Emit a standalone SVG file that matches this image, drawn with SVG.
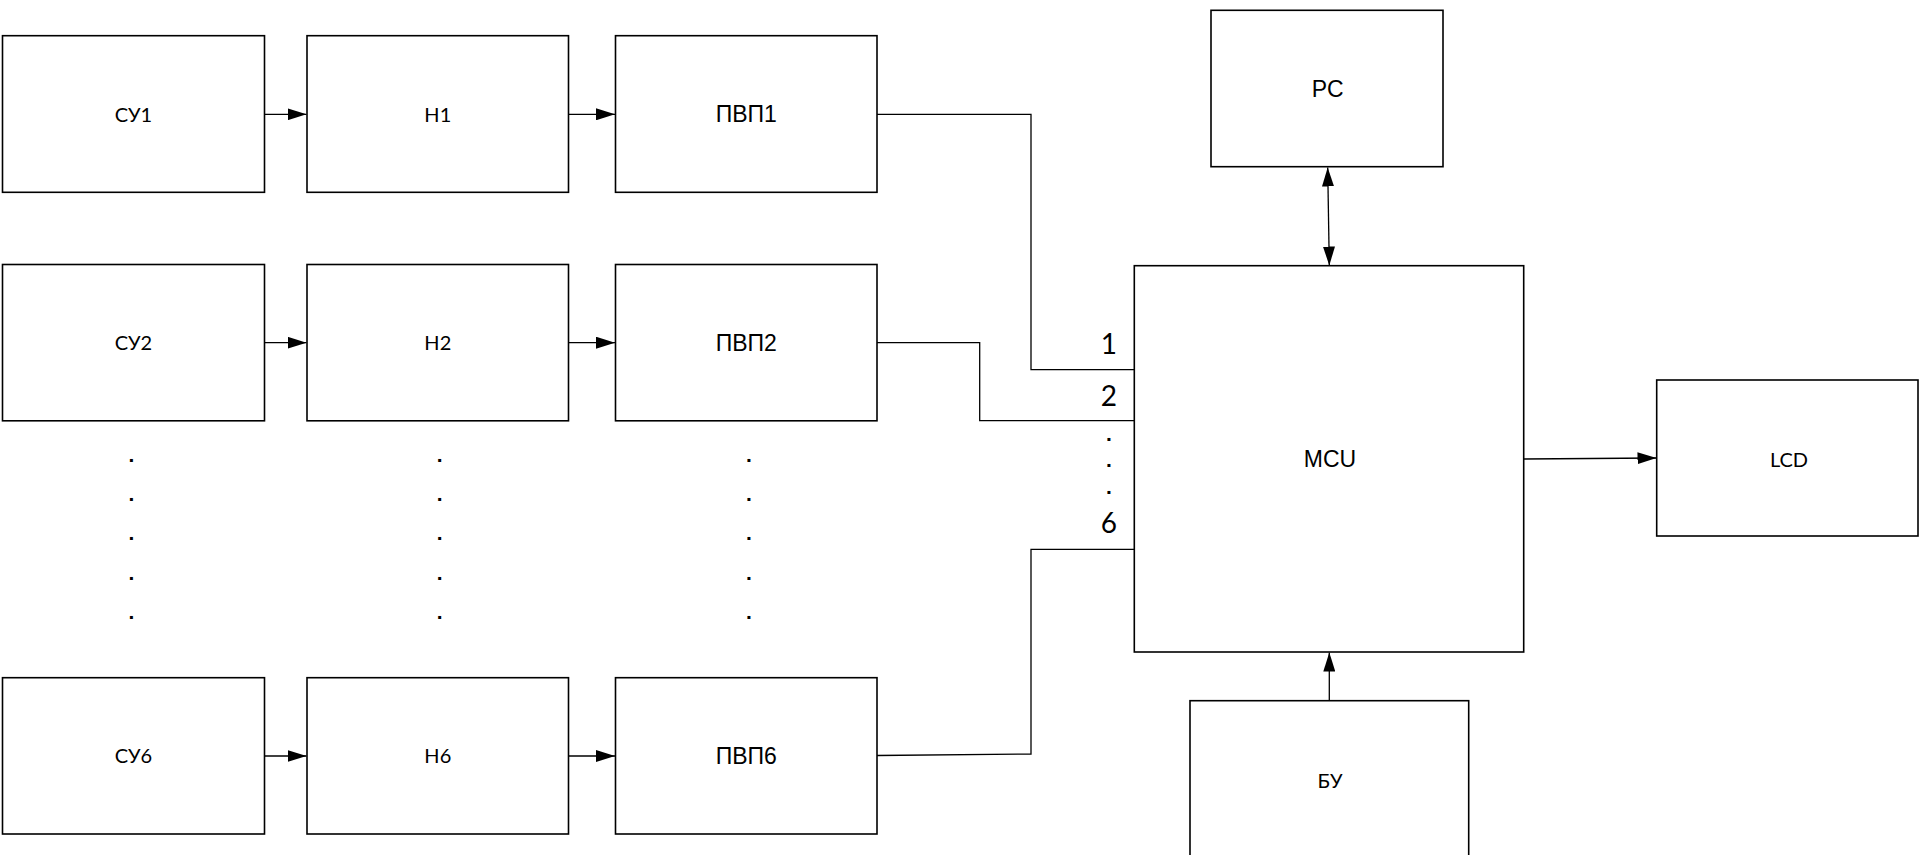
<svg xmlns="http://www.w3.org/2000/svg" width="1920" height="855" viewBox="0 0 1920 855">
<style>
.box{fill:#fff;stroke:#000;stroke-width:1.6}
.ln{fill:none;stroke:#000;stroke-width:1.3}
.ta{font-family:"Liberation Sans",Arial,sans-serif;font-size:23px;fill:#000;text-anchor:middle}
.tc{font-family:Lato,"Open Sans",sans-serif;font-size:20px;fill:#000;text-anchor:middle}
.tn{font-family:Lato,"Open Sans",sans-serif;font-size:28px;fill:#000;text-anchor:end}
.dt{font-family:"Liberation Sans",sans-serif;font-size:21px;font-weight:bold;fill:#000;text-anchor:middle}
</style>
<defs>
<marker id="arr" viewBox="0 0 19 12" refX="19" refY="6" markerWidth="19" markerHeight="12" orient="auto-start-reverse" markerUnits="userSpaceOnUse"><path d="M0,0 L19,6 L0,12 z" fill="#000"/></marker>
</defs>
<rect width="1920" height="855" fill="#fff"/>
<g id="connectors">
<path class="ln" d="M264.5,114.3 H306.5" marker-end="url(#arr)"/>
<path class="ln" d="M568.5,114.3 H615" marker-end="url(#arr)"/>
<path class="ln" d="M264.5,342.7 H306.5" marker-end="url(#arr)"/>
<path class="ln" d="M568.5,342.7 H615" marker-end="url(#arr)"/>
<path class="ln" d="M264.5,756 H306.5" marker-end="url(#arr)"/>
<path class="ln" d="M568.5,756 H615" marker-end="url(#arr)"/>
<path class="ln" d="M877,114.3 H1031 V369.7 H1134"/>
<path class="ln" d="M877,342.7 H979.7 V420.7 H1134"/>
<path class="ln" d="M877,755.5 L1031,754 V549.3 H1134"/>
<path class="ln" d="M1327.7,167.5 L1329.3,265.5" marker-start="url(#arr)" marker-end="url(#arr)"/>
<path class="ln" d="M1523.7,459 L1656.5,458" marker-end="url(#arr)"/>
<path class="ln" d="M1329.3,700.7 V652.5" marker-end="url(#arr)"/>
</g>
<g id="su1"><rect class="box" x="2.5" y="35.7" width="262" height="156.6"/><text class="tc" x="133.5" y="121.7">СУ1</text></g>
<g id="n1"><rect class="box" x="307" y="35.7" width="261.5" height="156.6"/><text class="tc" x="437.8" y="121.7">Н1</text></g>
<g id="pvp1"><rect class="box" x="615.5" y="35.7" width="261.5" height="156.6"/><text class="ta" x="746.3" y="121.7">ПВП1</text></g>
<g id="su2"><rect class="box" x="2.5" y="264.5" width="262" height="156.3"/><text class="tc" x="133.5" y="350">СУ2</text></g>
<g id="n2"><rect class="box" x="307" y="264.5" width="261.5" height="156.3"/><text class="tc" x="437.8" y="350">Н2</text></g>
<g id="pvp2"><rect class="box" x="615.5" y="264.5" width="261.5" height="156.3"/><text class="ta" x="746.3" y="350.7">ПВП2</text></g>
<g id="su6"><rect class="box" x="2.5" y="677.7" width="262" height="156.3"/><text class="tc" x="133.5" y="763">СУ6</text></g>
<g id="n6"><rect class="box" x="307" y="677.7" width="261.5" height="156.3"/><text class="tc" x="437.8" y="763">Н6</text></g>
<g id="pvp6"><rect class="box" x="615.5" y="677.7" width="261.5" height="156.3"/><text class="ta" x="746.3" y="764">ПВП6</text></g>
<g id="dots">
<text class="dt" x="131.5" y="461.5">.</text><text class="dt" x="131.5" y="500.5">.</text><text class="dt" x="131.5" y="539.5">.</text><text class="dt" x="131.5" y="579.5">.</text><text class="dt" x="131.5" y="618.5">.</text>
<text class="dt" x="439.7" y="461.5">.</text><text class="dt" x="439.7" y="500.5">.</text><text class="dt" x="439.7" y="539.5">.</text><text class="dt" x="439.7" y="579.5">.</text><text class="dt" x="439.7" y="618.5">.</text>
<text class="dt" x="749" y="461.5">.</text><text class="dt" x="749" y="500.5">.</text><text class="dt" x="749" y="539.5">.</text><text class="dt" x="749" y="579.5">.</text><text class="dt" x="749" y="618.5">.</text>
<text class="dt" x="1109" y="441">.</text><text class="dt" x="1109" y="467">.</text><text class="dt" x="1109" y="494">.</text>
</g>
<g id="pc"><rect class="box" x="1211" y="10.3" width="232" height="156.4"/><text class="ta" x="1327.7" y="97">PC</text></g>
<g id="mcu"><rect class="box" x="1134.3" y="265.7" width="389.4" height="386.3"/><text class="ta" x="1330" y="467">MCU</text>
<text class="tn" x="1117" y="354">1</text><text class="tn" x="1117" y="406">2</text><text class="tn" x="1117" y="533">6</text></g>
<g id="lcd"><rect class="box" x="1656.7" y="380" width="261.3" height="156"/><text class="tc" x="1789" y="467">LCD</text></g>
<g id="bu"><rect class="box" x="1190" y="700.7" width="278.7" height="170"/><text class="tc" x="1330" y="788">БУ</text></g>
</svg>
